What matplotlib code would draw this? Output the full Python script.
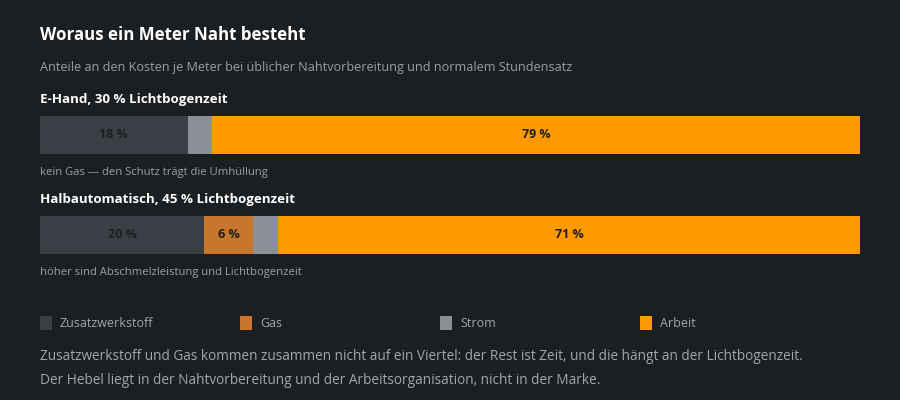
import numpy as np
import matplotlib.pyplot as plt

plt.rcParams['font.family'] = ['Open Sans', 'DejaVu Sans']

categories = ['Zusatzwerkstoff', 'Gas', 'Strom', 'Arbeit']
colors = ['#3a3e45', '#c8762b', '#8b9097', '#ff9900']
groups = ['E-Hand, 30 % Lichtbogenzeit', 'Halbautomatisch, 45 % Lichtbogenzeit']
notes = ['kein Gas — den Schutz trägt die Umhüllung',
         'höher sind Abschmelzleistung und Lichtbogenzeit']
e_hand = [18, 0, 3, 79]
halbauto = [20, 6, 3, 71]
values = [e_hand, halbauto]

title = 'Woraus ein Meter Naht besteht'
subtitle = 'Anteile an den Kosten je Meter bei üblicher Nahtvorbereitung und normalem Stundensatz'
footer = ['Zusatzwerkstoff und Gas kommen zusammen nicht auf ein Viertel: der Rest ist Zeit, und die hängt an der Lichtbogenzeit.',
          'Der Hebel liegt in der Nahtvorbereitung und der Arbeitsorganisation, nicht in der Marke.']

bg = '#1c1f22'
fig = plt.figure(figsize=(9, 4), dpi=100, facecolor=bg)

# text layer in pixel coordinates
tx = fig.add_axes([0, 0, 1, 1])
tx.set_xlim(0, 900); tx.set_ylim(400, 0); tx.axis('off')

# bar layer: x spans 40..860 px, y in pixels
bx = fig.add_axes([40/900, 0, 820/900, 1])
bx.set_xlim(0, 100); bx.set_ylim(400, 0); bx.axis('off')
bx.patch.set_alpha(0)

tx.text(40, 35, title, color='#ffffff', fontsize=12.2, fontweight='bold', va='center')
tx.text(40, 68, subtitle, color='#9b9ea3', fontsize=9.1, va='center')

bar_y = [135, 235]
for i, vals in enumerate(values):
    y = bar_y[i]
    tx.text(40, y - 35, groups[i], color='#ffffff', fontsize=9.6, fontweight='bold', va='center')
    left = 0
    for j, v in enumerate(vals):
        if v > 0:
            bx.barh(y, v, left=left, height=38, color=colors[j], linewidth=0)
            if v >= 5:
                bx.text(left + v / 2, y, f'{v} %', ha='center', va='center',
                        color='#1e1e1e', fontsize=9.0, fontweight='bold')
        left += v
    tx.text(40, y + 37, notes[i], color='#9b9ea3', fontsize=8.15, va='center')

# legend
for k, name in enumerate(categories):
    x0 = 40 + 200 * k
    tx.add_patch(plt.Rectangle((x0, 316), 12, 14, color=colors[k], linewidth=0))
    tx.text(x0 + 20, 323.5, name, color='#a3a6ab', fontsize=9.0, va='center')

tx.text(40, 357, footer[0], color='#a3a6ab', fontsize=9.85, va='center')
tx.text(40, 381, footer[1], color='#a3a6ab', fontsize=9.85, va='center')

fig.savefig('out.png', dpi=100, facecolor=bg)
